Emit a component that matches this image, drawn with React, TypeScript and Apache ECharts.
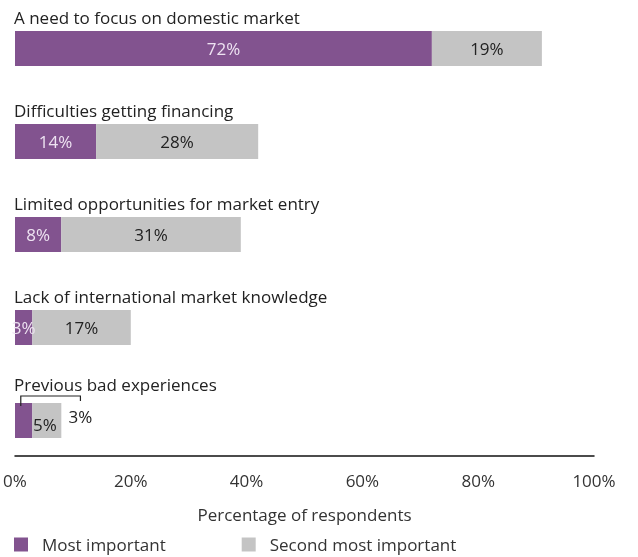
import React, { useEffect, useRef } from "react";
import * as echarts from "echarts";

const categories = [
  "A need to focus on domestic market",
  "Difficulties getting financing",
  "Limited opportunities for market entry",
  "Lack of international market knowledge",
  "Previous bad experiences",
];
const mostImportant = [72, 14, 8, 3, 3];
const secondMost = [19, 28, 31, 17, 5];
const xTicks = [0, 20, 40, 60, 80, 100];

const PURPLE = "#82538f";
const GREY = "#c4c4c4";
const FONT = "Open Sans";
const FS = 17;

export default function App() {
  const ref = useRef<HTMLDivElement>(null);
  useEffect(() => {
    if (!ref.current) return;
    const chart = echarts.init(ref.current, undefined, { renderer: "svg" });
    const lastIdx = categories.length - 1;
    chart.setOption({
      animation: false,
      textStyle: { fontFamily: FONT },
      grid: { left: 15, right: 44, top: 2, height: 465, containLabel: false },
      xAxis: {
        type: "value",
        min: xTicks[0],
        max: xTicks[xTicks.length - 1],
        interval: 20,
        offset: -11,
        axisLine: { show: true, lineStyle: { color: "#111", width: 1.5 } },
        axisTick: { show: false },
        splitLine: { show: false },
        axisLabel: { formatter: "{value}%", fontSize: FS, color: "#333", margin: 16, fontFamily: FONT },
        name: "Percentage of respondents",
        nameLocation: "middle",
        nameGap: 50,
        nameTextStyle: { fontSize: FS, color: "#333", fontFamily: FONT },
      },
      yAxis: {
        type: "category",
        inverse: true,
        data: categories,
        axisLine: { show: false },
        axisTick: { show: false },
        axisLabel: {
          inside: true,
          align: "left",
          verticalAlign: "bottom",
          padding: [0, 0, 23, 0],
          margin: -1,
          fontSize: FS,
          color: "#222",
          fontFamily: FONT,
          formatter: (v: string, i: number) => (i === lastIdx ? `{up|${v}}` : v),
          rich: {
            up: { fontSize: FS, color: "#222", fontFamily: FONT, padding: [0, 0, 5, 0] },
          },
        },
      },
      legend: {
        left: 14,
        top: 536,
        padding: 0,
        icon: "rect",
        itemWidth: 14,
        itemHeight: 14,
        itemGap: 76,
        textStyle: { fontSize: FS, lineHeight: 16, color: "#333", fontFamily: FONT, padding: [0, 0, 0, 9] },
        data: ["Most important", "Second most important"],
      },
      series: [
        {
          name: "Most important",
          type: "bar",
          stack: "total",
          barWidth: 35,
          itemStyle: { color: PURPLE },
          label: { show: true, position: "inside", formatter: "{c}%", color: "#eee3f2", fontSize: FS, fontFamily: FONT },
          data: mostImportant.map((v, i) =>
            i === lastIdx ? { value: v, label: { show: false } } : v
          ),
        },
        {
          name: "Second most important",
          type: "bar",
          stack: "total",
          barWidth: 35,
          itemStyle: { color: GREY },
          label: { show: true, position: "inside", formatter: "{c}%", color: "#222", fontSize: FS, fontFamily: FONT },
          data: secondMost.map((v, i) =>
            i === lastIdx ? { value: v, label: { offset: [-2, 4] } } : v
          ),
        },
      ],
    });

    // Bracket callout for the small "Most important" value of the last category
    const center = chart.convertToPixel({ gridIndex: 0 }, [0, lastIdx]) as number[];
    const top = center[1] - 17.5;
    const xa = (chart.convertToPixel({ gridIndex: 0 }, [mostImportant[lastIdx] / 3, lastIdx]) as number[])[0];
    const xb = (chart.convertToPixel({ gridIndex: 0 }, [11.3, lastIdx]) as number[])[0];
    chart.setOption({
      graphic: [
        {
          type: "polyline",
          shape: { points: [[xa, top + 3], [xa, top - 7], [xb, top - 7], [xb, top - 2]] },
          style: { stroke: "#222", lineWidth: 1.2, fill: null },
          z: 10,
        },
        {
          type: "text",
          x: xb,
          y: top + 13,
          style: {
            text: mostImportant[lastIdx] + "%",
            fontSize: FS,
            fontFamily: FONT,
            fill: "#222",
            align: "center",
            verticalAlign: "middle",
          },
          z: 10,
        },
      ],
    });
    return () => chart.dispose();
  }, []);
  return <div ref={ref} style={{ position: "fixed", left: 0, top: 0, width: 638, height: 557 }} />;
}
